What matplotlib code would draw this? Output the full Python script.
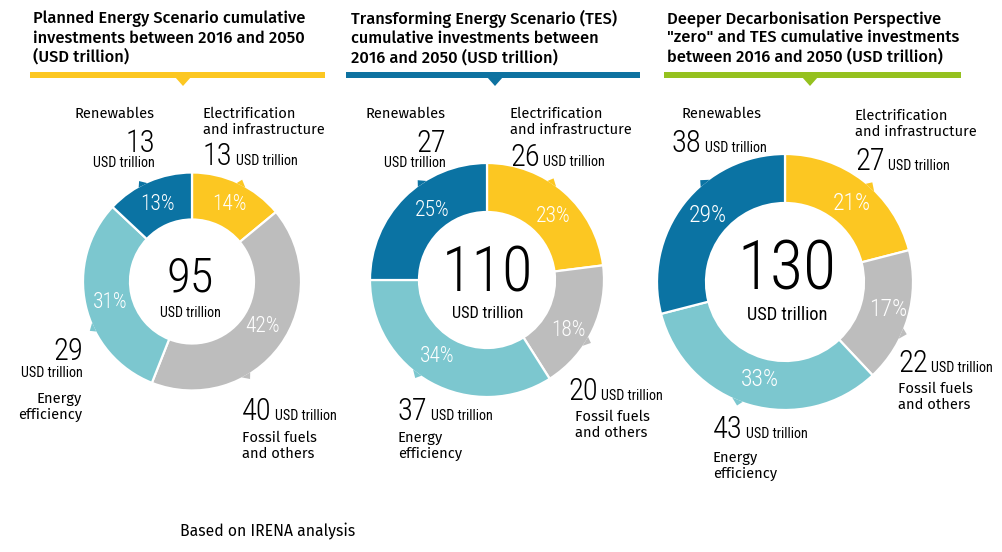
import matplotlib.pyplot as plt
import numpy as np

# clockwise from 12 o'clock: electrification, fossil, efficiency, renewables
segments = ["Electrification\nand infrastructure", "Fossil fuels\nand others",
            "Energy\nefficiency", "Renewables"]
colors = ["#FCC722", "#BDBDBD", "#7CC7CF", "#0B73A3"]

titles = ["Planned Energy Scenario cumulative\ninvestments between 2016 and 2050\n(USD trillion)",
          "Transforming Energy Scenario (TES)\ncumulative investments between\n2016 and 2050 (USD trillion)",
          "Deeper Decarbonisation Perspective\n\"zero\" and TES cumulative investments\nbetween 2016 and 2050 (USD trillion)"]
title_colors = ["#FCC722", "#0E72A0", "#95C11F"]

totals = [95, 110, 130]
pes_usd = [13, 40, 29, 13]
tes_usd = [26, 20, 37, 27]
ddp_usd = [27, 22, 43, 38]
pes_pct = [14, 42, 31, 13]
tes_pct = [23, 18, 34, 25]
ddp_pct = [21, 17, 33, 29]

W, H = 1002, 552
fig = plt.figure(figsize=(W / 100, H / 100), dpi=100)
ax = fig.add_axes([0, 0, 1, 1])

LAB = ["Fira Sans", "Lato", "DejaVu Sans"]
NUM = ["Roboto Condensed", "DejaVu Sans"]
LS = 10.6   # label text size
US = 10.2   # small "USD trillion" size


def Y(py):
    return H - py


def txt(x, y, s, size, fam=LAB, **kw):
    return ax.text(x, Y(y), s, fontsize=size, family=fam, **kw)


def num(x, y, n, size=22, ha="left"):
    return txt(x, y, str(n), size, fam=NUM, weight="light", ha=ha, va="baseline")


def unit(x, y, size=US, ha="left"):
    return txt(x, y, "USD trillion", size, fam=NUM, ha=ha, va="baseline")


def num_unit(x, y, n, size_n=22, size_u=US):
    # big number followed by small "USD trillion" on the same baseline
    t = num(x, y, n, size_n)
    fig.canvas.draw()
    bb = t.get_window_extent()
    ax.text(bb.x1 + 3, Y(y), "USD trillion", fontsize=size_u, family=NUM, va="baseline")


# title blocks
title_x = [33, 351, 667]
bar_x = [(30, 325), (346, 640), (664, 961)]
tri_x = [183, 495, 810]
for i in range(3):
    txt(title_x[i], 38, titles[i], 11.8, weight="medium", va="center", linespacing=1.2)
    x0, x1 = bar_x[i]
    ax.fill([x0, x1, x1, x0], [Y(72), Y(72), Y(78), Y(78)], color=title_colors[i], lw=0)
    ax.fill([tri_x[i] - 8, tri_x[i] + 8, tri_x[i]], [Y(77), Y(77), Y(86)], color=title_colors[i], lw=0)

# donuts
centers = [(192, 281.5), (487, 280), (785, 282)]
radii = [109, 117, 128]
holes = [62, 68, 79]
pcts = [pes_pct, tes_pct, ddp_pct]
# little pointer notches on each slice (degrees clockwise from top)
notch_deg = [[27, 150, 245, 333], [34, 122, 217, 326], [42, 114, 202, 321]]
pct_pos = [[(229, 205), (263, 327), (110, 303), (158, 204)],
           [(553, 217), (568, 330), (437, 357), (432, 210)],
           [(852, 203), (888, 310), (760, 380), (708, 215)]]
pct_size = [15.5, 15.5, 17]
for i in range(3):
    cx, cy = centers[i]
    r = radii[i]
    ax.pie(pcts[i], colors=colors, startangle=90, counterclock=False,
           center=(cx, Y(cy)), radius=r, frame=True,
           wedgeprops=dict(width=r - holes[i], edgecolor="white", linewidth=1.6))
    for c, d in zip(colors, notch_deg[i]):
        a = np.radians(90 - d)
        h = np.radians(2.6)
        ang = [a + h, a + h * 0.3, a - h]
        rad = [r - 1, r + 4.5, r - 1]
        ax.fill([cx + rr * np.cos(t) for rr, t in zip(rad, ang)],
                [Y(cy) + rr * np.sin(t) for rr, t in zip(rad, ang)], color=c, lw=0)
    for p, (px, py) in zip(pcts[i], pct_pos[i]):
        txt(px, py, f"{p}%", pct_size[i], fam=NUM, weight="light", color="white", ha="center", va="center")

ax.set_xlim(0, W)
ax.set_ylim(0, H)
ax.set_aspect("equal")
ax.axis("off")

# centre totals
tot_x = [190, 488, 787]
tot_base = [291, 291, 289]
unit_base = [317, 318, 320]
tot_size = [35, 45, 49]
unit_size = [10, 11.8, 13.2]
for k in range(3):
    txt(tot_x[k], tot_base[k], str(totals[k]), tot_size[k], fam=NUM, weight="light", ha="center", va="baseline")
    unit(tot_x[k], unit_base[k], unit_size[k], ha="center")

# --- planned energy scenario labels
txt(155, 114, segments[3], LS, ha="right", va="center")
num(155, 152, pes_usd[3], ha="right")
unit(155, 167, ha="right")
txt(203, 122, segments[0], LS, va="center", linespacing=1.1)
num_unit(203, 165, pes_usd[0])
num(83, 360, pes_usd[2], ha="right")
unit(83, 377, ha="right")
txt(82, 407, segments[2], LS, ha="right", va="center", linespacing=1.15, multialignment="right")
num_unit(242, 420, pes_usd[1])
txt(242, 446, segments[1], LS, va="center", linespacing=1.15)

# --- transforming energy scenario labels
txt(446, 114, segments[3], LS, ha="right", va="center")
num(446, 152, tes_usd[3], ha="right")
unit(446, 167, ha="right")
txt(510, 122, segments[0], LS, va="center", linespacing=1.1)
num_unit(510, 166, tes_usd[0])
num_unit(568, 400, tes_usd[1])
txt(575, 425, segments[1], LS, va="center", linespacing=1.15)
num_unit(398, 420, tes_usd[2])
txt(398, 446, segments[2], LS, va="center", linespacing=1.15)

# --- deeper decarbonisation labels
txt(682, 114, segments[3], LS, va="center")
num_unit(672, 152, ddp_usd[3])
txt(855, 124, segments[0], LS, va="center", linespacing=1.1)
num_unit(855, 170, ddp_usd[0])
num_unit(898, 372, ddp_usd[1])
txt(898, 397, segments[1], LS, va="center", linespacing=1.15)
num_unit(713, 438, ddp_usd[2])
txt(713, 466, segments[2], LS, va="center", linespacing=1.15)

txt(180, 531, "Based on IRENA analysis", 11.3, va="center")

fig.savefig("out.png", dpi=100)
